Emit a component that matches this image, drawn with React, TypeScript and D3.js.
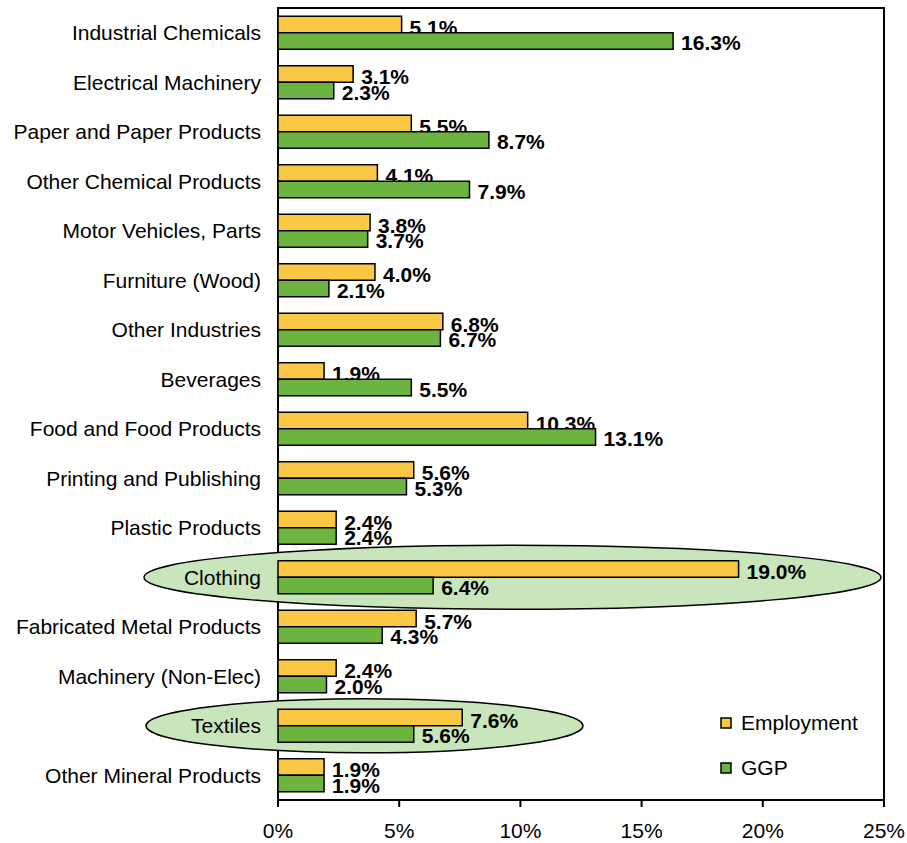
import React from "react";
import * as d3 from "d3";

// Manufacturing shares by industry: employment vs. gross state product
const categories = [
  "Industrial Chemicals",
  "Electrical Machinery",
  "Paper and Paper Products",
  "Other Chemical Products",
  "Motor Vehicles, Parts",
  "Furniture (Wood)",
  "Other Industries",
  "Beverages",
  "Food and Food Products",
  "Printing and Publishing",
  "Plastic Products",
  "Clothing",
  "Fabricated Metal Products",
  "Machinery (Non-Elec)",
  "Textiles",
  "Other Mineral Products",
];

const employment = [5.1, 3.1, 5.5, 4.1, 3.8, 4.0, 6.8, 1.9, 10.3, 5.6, 2.4, 19.0, 5.7, 2.4, 7.6, 1.9];
const ggp = [16.3, 2.3, 8.7, 7.9, 3.7, 2.1, 6.7, 5.5, 13.1, 5.3, 2.4, 6.4, 4.3, 2.0, 5.6, 1.9];

const seriesNames = ["Employment", "GGP"];
const seriesColors = ["#FBC845", "#6DB33F"];
const xTicks = [0, 5, 10, 15, 20, 25];

// Industries circled on the chart
const highlighted = ["Clothing", "Textiles"];

const W = 907;
const H = 843;
const margin = { left: 278, right: 23, top: 8, bottom: 43 };
const FONT = "Liberation Sans, Arial, sans-serif";
const FS = 21;

export default function App() {
  const x = d3.scaleLinear().domain([0, 25]).range([margin.left, W - margin.right]);
  const y = d3
    .scaleBand<string>()
    .domain(categories)
    .range([margin.top, H - margin.bottom])
    .paddingInner(0.333)
    .paddingOuter(0.1665);
  const inner = d3.scaleBand<string>().domain(seriesNames).range([0, y.bandwidth()]);
  const values = [employment, ggp];
  const labelShift = [3, 2];
  const plotBottom = H - margin.bottom;

  // Ellipse extents around highlighted rows
  const ellipses: Record<string, { x0: number; x1: number; ry: number }> = {
    Clothing: { x0: 144, x1: 881, ry: 32 },
    Textiles: { x0: 146, x1: 583, ry: 27 },
  };

  return (
    <svg
      width={W}
      height={H}
      style={{ position: "absolute", left: 0, top: 0, background: "#fff" }}
      fontFamily={FONT}
    >
      {/* plot frame */}
      <rect
        x={margin.left}
        y={margin.top}
        width={W - margin.left - margin.right}
        height={plotBottom - margin.top}
        fill="none"
        stroke="#000"
        strokeWidth={2}
      />
      {/* x ticks */}
      {xTicks.map((t) => (
        <g key={t}>
          <line x1={x(t)} x2={x(t)} y1={plotBottom} y2={plotBottom + 7} stroke="#000" strokeWidth={2} />
          <text x={x(t)} y={plotBottom + 38} textAnchor="middle" fontSize={FS} fill="#000">
            {t}%
          </text>
        </g>
      ))}
      {/* highlight ellipses */}
      {highlighted.map((c) => {
        const e = ellipses[c];
        const cy = (y(c) as number) + y.bandwidth() / 2;
        return (
          <ellipse
            key={c}
            cx={(e.x0 + e.x1) / 2}
            cy={cy}
            rx={(e.x1 - e.x0) / 2}
            ry={e.ry}
            fill="#C9E5BB"
            stroke="#000"
            strokeWidth={1.5}
          />
        );
      })}
      {/* category labels */}
      {categories.map((c) => (
        <text
          key={c}
          x={margin.left - 17}
          y={(y(c) as number) + y.bandwidth() / 2}
          dy="0.35em"
          textAnchor="end"
          fontSize={FS}
          fill="#000"
        >
          {c}
        </text>
      ))}
      {/* bars and value labels */}
      {categories.map((c, i) =>
        seriesNames.map((s, si) => {
          const v = values[si][i];
          const by = (y(c) as number) + (inner(s) as number);
          const bh = inner.bandwidth();
          return (
            <g key={c + s}>
              <rect
                x={x(0)}
                y={by}
                width={x(v) - x(0)}
                height={bh}
                fill={seriesColors[si]}
                stroke="#000"
                strokeWidth={1.5}
              />
              <text
                x={x(v) + 8}
                y={by + bh / 2 + labelShift[si]}
                dy="0.35em"
                fontSize={FS}
                fontWeight="bold"
                fill="#000"
              >
                {v.toFixed(1)}%
              </text>
            </g>
          );
        })
      )}
      {/* legend */}
      {seriesNames.map((s, si) => (
        <g key={s} transform={`translate(721, ${718 + si * 45})`}>
          <rect width={10} height={10} fill={seriesColors[si]} stroke="#000" strokeWidth={1.5} />
          <text x={20} y={5} dy="0.35em" fontSize={FS} fill="#000">
            {s}
          </text>
        </g>
      ))}
    </svg>
  );
}
